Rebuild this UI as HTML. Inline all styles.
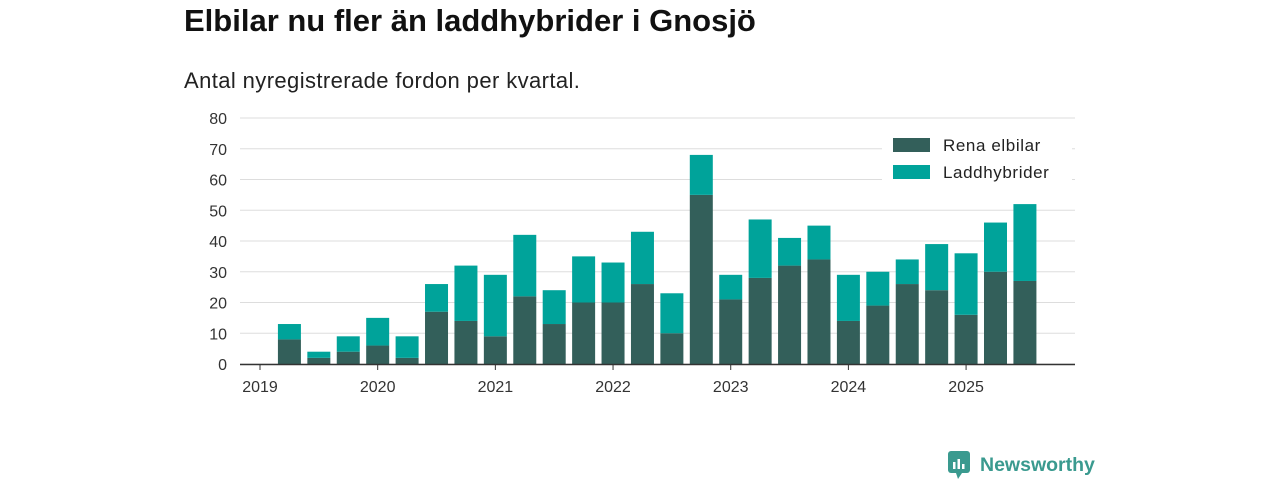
<!DOCTYPE html>
<html><head><meta charset="utf-8"><style>
body{margin:0;background:#fff;font-family:"Liberation Sans",sans-serif;}
#wrap{position:relative;width:1280px;height:480px;overflow:hidden;}
h1{position:absolute;left:184px;top:3px;margin:0;font-size:31px;font-weight:bold;color:#111;letter-spacing:0px;}
.sub{position:absolute;left:184px;top:68px;font-size:22px;color:#222;letter-spacing:0.4px;}
.logo{position:absolute;left:948px;top:451px;display:flex;align-items:center;color:#3a9a8f;font-weight:bold;font-size:19.5px;}
</style></head><body>
<div id="wrap">
<h1>Elbilar nu fler än laddhybrider i Gnosjö</h1>
<div class="sub">Antal nyregistrerade fordon per kvartal.</div>
<svg id="chart" width="1280" height="480" style="position:absolute;left:0;top:0"></svg>
<div class="logo">
<svg width="24" height="28" viewBox="0 0 24 28"><rect x="0" y="0" width="22" height="22" rx="3" fill="#3a9a8f"/><polygon points="8,22 14,22 10,28" fill="#3a9a8f"/><rect x="5" y="11" width="2.5" height="7" fill="#fff"/><rect x="9.5" y="8" width="2.5" height="10" fill="#fff"/><rect x="14" y="13" width="2.5" height="5" fill="#fff"/></svg>
<span style="margin-left:8px">Newsworthy</span></div>
</div>
<script>
const quarters=["2019Q1","2019Q2","2019Q3","2019Q4","2020Q1","2020Q2","2020Q3","2020Q4","2021Q1","2021Q2","2021Q3","2021Q4","2022Q1","2022Q2","2022Q3","2022Q4","2023Q1","2023Q2","2023Q3","2023Q4","2024Q1","2024Q2","2024Q3","2024Q4","2025Q1","2025Q2","2025Q3"];
const elbilar=[0,8,2,4,6,2,17,14,9,22,13,20,20,26,10,55,21,28,32,34,14,19,26,24,16,30,27];
const laddhybrider=[0,5,2,5,9,7,9,18,20,20,11,15,13,17,13,13,8,19,9,11,15,11,8,15,20,16,25];
const yTicks=[0,10,20,30,40,50,60,70,80];
const xTickLabels=["2019","2020","2021","2022","2023","2024","2025"];
const svg=document.getElementById('chart');const NS="http://www.w3.org/2000/svg";
const y=v=>364-v*(246/80);
const x=i=>260+i*29.42;
function mk(t,a){const e=document.createElementNS(NS,t);for(const k in a)e.setAttribute(k,a[k]);svg.appendChild(e);return e;}
yTicks.forEach(t=>{
 const g=mk('line',{x1:240,x2:1075,y1:y(t),y2:y(t),stroke:'#dddddd','stroke-width':1});
 
 
 const l=mk('text',{x:227,y:y(t)+6,'text-anchor':'end','font-size':16,fill:'#333','font-family':'Liberation Sans, sans-serif'});l.textContent=t;
 
 
});
quarters.forEach((q,i)=>{
 const e=elbilar[i],l=laddhybrider[i],cx=x(i),w=23;
 if(e>0){const r=mk('rect',{x:cx-w/2,y:y(e),width:w,height:y(0)-y(e),fill:'#335f5a'});
 
 }
 if(l>0){const r2=mk('rect',{x:cx-w/2,y:y(e+l),width:w,height:y(e)-y(e+l),fill:'#00a39a'});
 
 }
});
const ax=mk('line',{x1:240,x2:1075,y1:364.5,y2:364.5,stroke:'#333','stroke-width':1.5});


xTickLabels.forEach((t,k)=>{
 const cx=x(k*4);
 const tk=mk('line',{x1:cx,x2:cx,y1:364,y2:370,stroke:'#333'});
 
 
 const tx=mk('text',{x:cx,y:392,'text-anchor':'middle','font-size':16,fill:'#333','font-family':'Liberation Sans, sans-serif'});tx.textContent=t;
 
 
});
const lb=mk('rect',{x:882,y:133,width:190,height:55,fill:'#fff'});


[["Rena elbilar","#335f5a",138],["Laddhybrider","#00a39a",165]].forEach(([n,c,yy])=>{
 const r=mk('rect',{x:893,y:yy,width:37,height:14,fill:c});
 
 
 const t=mk('text',{x:943,y:yy+13,'font-size':17,'letter-spacing':0.6,fill:'#222','font-family':'Liberation Sans, sans-serif'});t.textContent=n;
 
 
});
</script>
</body></html>
